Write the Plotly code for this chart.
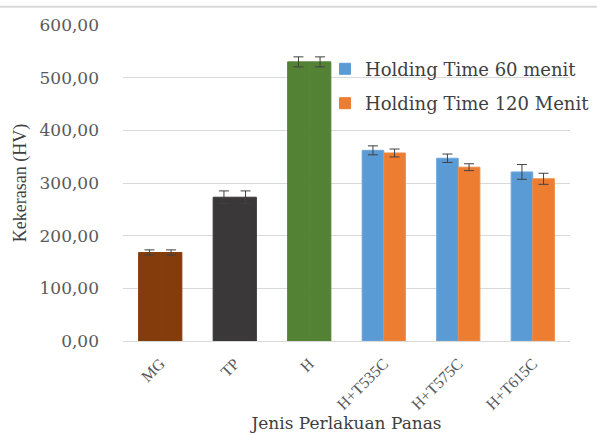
import plotly.graph_objects as go

# Hardness (HV) per heat-treatment condition
categories = ["MG", "TP", "H", "H+T535C", "H+T575C", "H+T615C"]
hv_60 = [168, 273, 530, 362, 347, 321]
err_60 = [5, 12, 9.5, 8.5, 8, 14]
hv_120 = [168, 273, 530, 357, 330, 308]
err_120 = [5, 12, 9.5, 7.5, 6.5, 10.5]
y_ticks = [0, 100, 200, 300, 400, 500, 600]
y_tick_text = ["0,00", "100,00", "200,00", "300,00", "400,00", "500,00", "600,00"]
series_names = ["Holding Time 60 menit", "Holding Time 120 Menit"]
series_colors = ["#5B9BD5", "#ED7D31"]

# Per-bar fills: base conditions share one colour across both series
fill_60 = ["#843C0C", "#3A3838", "#548235", "#5B9BD5", "#5B9BD5", "#5B9BD5"]
fill_120 = ["#843C0C", "#3A3838", "#548235", "#ED7D31", "#ED7D31", "#ED7D31"]
edge_60 = ["#843C0C", "#3A3838", "#548235", "#6FA7DA", "#6FA7DA", "#6FA7DA"]
edge_120 = ["#843C0C", "#3A3838", "#548235", "#EE8A44", "#EE8A44", "#EE8A44"]

serif = "DejaVu Serif"
text_grey = "#595959"

fig = go.Figure()
for vals, errs, fills, edges in [(hv_60, err_60, fill_60, edge_60),
                                 (hv_120, err_120, fill_120, edge_120)]:
    fig.add_trace(go.Bar(
        x=categories, y=vals, showlegend=False,
        marker=dict(color=fills, line=dict(color=edges, width=1)),
        error_y=dict(type="data", array=errs, color="#404040", thickness=1, width=5),
    ))

# Legend keys in the series colours
for i, (name, col) in enumerate(zip(series_names, series_colors)):
    fig.add_trace(go.Scatter(
        x=[None], y=[None], mode="markers", name=name,
        marker=dict(symbol="square", size=11, color=col,
                    line=dict(color=col, width=1)),
        legendgroup=f"g{i}",
    ))

fig.update_layout(
    width=597, height=433,
    margin=dict(l=123, r=27, t=25, b=92, autoexpand=False),
    paper_bgcolor="white", plot_bgcolor="white",
    barmode="group", bargap=0.42, bargroupgap=0,
    font=dict(family=serif, color=text_grey, size=16),
    showlegend=True,
    legend=dict(
        x=0.452, y=0.919, xanchor="left", yanchor="top",
        bgcolor="rgba(0,0,0,0)", traceorder="grouped", tracegroupgap=8,
        font=dict(family=serif, size=18, color="#404040"),
        itemwidth=30,
    ),
    xaxis=dict(
        showgrid=False, showline=True, linecolor="#D9D9D9", linewidth=1,
        tickangle=-45, ticks="", ticklabelstandoff=6, automargin=False,
        tickfont=dict(family="Liberation Serif", size=16, color=text_grey),
        title=dict(text="Jenis Perlakuan Panas", standoff=8,
                   font=dict(family=serif, size=17, color="#404040")),
    ),
    yaxis=dict(
        range=[0, 600], tickvals=y_ticks, ticktext=y_tick_text,
        showgrid=True, gridcolor="#D9D9D9", gridwidth=1,
        zeroline=False, showline=False, ticks="", ticklabelstandoff=23,
        automargin=False,
        tickfont=dict(family=serif, size=17, color=text_grey),
        title=dict(text="Kekerasan (HV)", standoff=8,
                   font=dict(family="Liberation Serif", size=18, color="#404040")),
    ),
    shapes=[dict(type="line", xref="paper", yref="paper",
                 x0=-0.3, x1=1.1, y0=1.058, y1=1.058,
                 line=dict(color="#D9D9D9", width=2))],
)

fig.write_html("out.html")
